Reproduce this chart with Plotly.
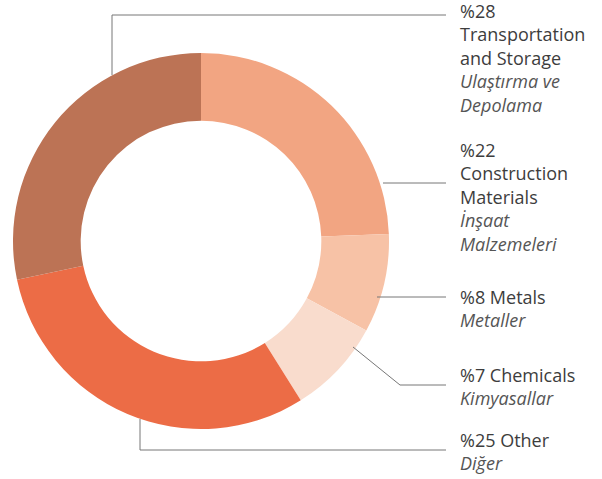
import plotly.graph_objects as go

labels_en = ["Construction Materials", "Metals", "Chemicals", "Other", "Transportation and Storage"]
# slice sizes as drawn in the picture (angles measured), percent
slice_values = [24.4, 8.5, 8.2, 30.6, 28.3]
colors = ["#F2A582", "#F7C2A6", "#F9DCCD", "#EC6C46", "#BC7355"]

label_texts = [
    "%28<br>Transportation<br>and Storage<br><i><span style='color:#555'>Ulaştırma ve</span></i><br><i><span style='color:#555'>Depolama</span></i>",
    "%22<br>Construction<br>Materials<br><i><span style='color:#555'>İnşaat</span></i><br><i><span style='color:#555'>Malzemeleri</span></i>",
    "%8 Metals<br><i><span style='color:#555'>Metaller</span></i>",
    "%7 Chemicals<br><i><span style='color:#555'>Kimyasallar</span></i>",
    "%25 Other<br><i><span style='color:#555'>Diğer</span></i>",
]
label_tops = [-3, 136, 283, 361, 426]  # pixel tops of label blocks

W, H = 602, 479
cx, cy, R = 201, 241, 188

fig = go.Figure(go.Pie(
    labels=labels_en, values=slice_values, sort=False, direction="clockwise", rotation=0,
    hole=0.64, marker=dict(colors=colors, line=dict(width=0)),
    textinfo="none", hoverinfo="label", showlegend=False,
    domain=dict(x=[(cx - R) / W, (cx + R) / W], y=[(H - cy - R) / H, (H - cy + R) / H]),
))

def px(x):
    return x / W

def py(y):
    return 1 - y / H

lc = "#777777"
segments = [
    [(112, 75), (112, 15), (446, 15)],
    [(383, 183), (446, 183)],
    [(377, 297), (446, 297)],
    [(353, 347), (400, 385), (446, 385)],
    [(140, 419), (140, 450), (446, 450)],
]
shapes = []
for seg in segments:
    for (x0, y0), (x1, y1) in zip(seg[:-1], seg[1:]):
        shapes.append(dict(type="line", xref="paper", yref="paper",
                           x0=px(x0), y0=py(y0), x1=px(x1), y1=py(y1),
                           line=dict(color=lc, width=1)))

annotations = []
for t, top in zip(label_texts, label_tops):
    annotations.append(dict(text=t, xref="paper", yref="paper", x=px(458), y=py(top),
                            xanchor="left", yanchor="top", align="left", showarrow=False,
                            font=dict(family="Open Sans", size=18, color="#3d3d3d")))

fig.update_layout(width=W, height=H, margin=dict(l=0, r=0, t=0, b=0),
                  paper_bgcolor="white", plot_bgcolor="white",
                  shapes=shapes, annotations=annotations)
fig.write_html("out.html", config={"displayModeBar": False},
               post_script="document.body.style.margin='0';")
